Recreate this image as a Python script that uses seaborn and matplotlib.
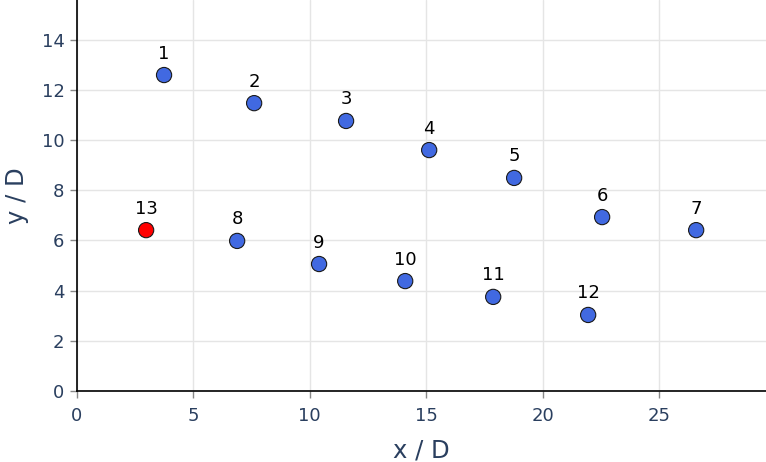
import matplotlib
matplotlib.use("Agg")
import matplotlib.pyplot as plt
import seaborn as sns
import pandas as pd

# point positions
labels = ["1", "2", "3", "4", "5", "6", "7", "8", "9", "10", "11", "12", "13"]
x_vals = [3.74, 7.61, 11.56, 15.13, 18.78, 22.56, 26.6, 6.88, 10.4, 14.1, 17.88, 21.96, 2.97]
y_vals = [12.59, 11.47, 10.76, 9.60, 8.49, 6.93, 6.41, 5.98, 5.06, 4.38, 3.75, 3.03, 6.41]
groups = ["base"] * 12 + ["ref"]

df = pd.DataFrame({"x": x_vals, "y": y_vals, "label": labels, "group": groups})

sns.set_theme(style="white")
plt.rcParams['font.family'] = ['DejaVu Sans']

fig = plt.figure(figsize=(7.66, 4.62), dpi=100)
ax = fig.add_axes([77 / 766, 71 / 462, 1 - 77 / 766, 1 - 71 / 462])

sns.scatterplot(data=df, x="x", y="y", hue="group",
                palette={"base": "#4169E1", "ref": "#FF0000"},
                s=120, edgecolor="#1a1a1a", linewidth=0.8, legend=False,
                ax=ax, zorder=3)

for _, r in df.iterrows():
    ax.annotate(r["label"], (r["x"], r["y"]), xytext=(0, 9), textcoords="offset points",
                ha="center", va="bottom", fontsize=13, color="black")

ax.set_xlim(0, 29.6)
ax.set_ylim(0, 15.58)
ax.set_xticks([0, 5, 10, 15, 20, 25])
ax.set_yticks([0, 2, 4, 6, 8, 10, 12, 14])
ax.grid(True, color="#e5e5e5", linewidth=1)
ax.set_axisbelow(True)

for side in ["top", "right"]:
    ax.spines[side].set_visible(False)
for side in ["left", "bottom"]:
    ax.spines[side].set_color("black")
    ax.spines[side].set_linewidth(1.2)

ax.tick_params(axis="both", which="both", direction="out", length=5, width=1,
               color="#888888", labelsize=13, labelcolor="#2a3f5f",
               bottom=True, left=True)
ax.tick_params(axis="x", pad=6.5)
ax.tick_params(axis="y", pad=4)
ax.set_xlabel("x / D", fontsize=17.5, color="#2a3f5f", labelpad=9.5)
ax.set_ylabel("y / D", fontsize=17.5, color="#2a3f5f", labelpad=9)

fig.savefig("out.png", dpi=100)
